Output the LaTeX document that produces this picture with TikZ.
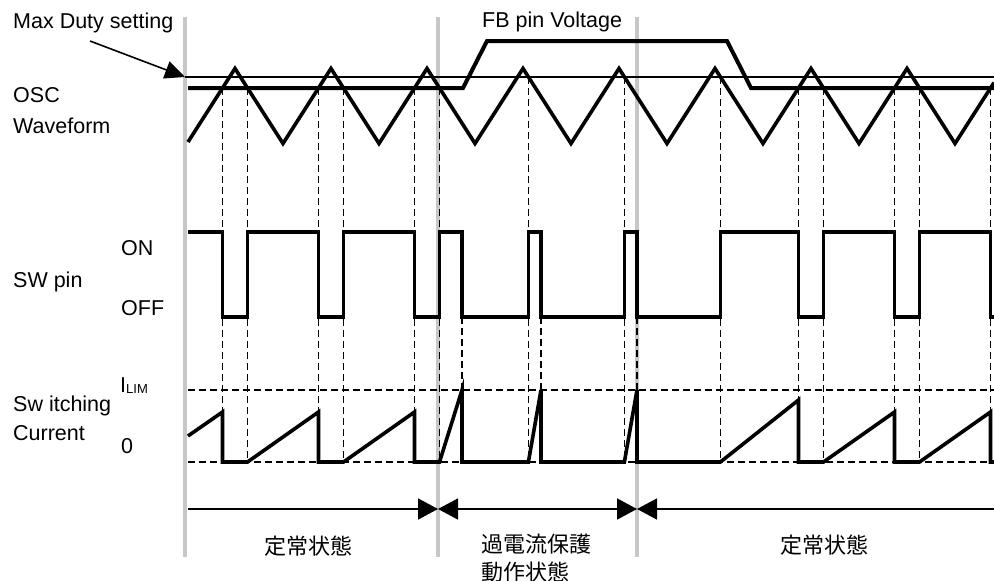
\documentclass[tikz,border=0pt]{standalone}
\usepackage{fontspec}
\setmainfont{Liberation Sans}
\newfontfamily\cjk{Noto Sans CJK JP}
\usetikzlibrary{arrows.meta}
\tikzset{bigtip/.tip={Triangle[length=20pt,width=21pt]}}
\begin{document}
\begin{tikzpicture}[x=1pt,y=-1pt,
  lbl/.style={inner sep=0pt, anchor=base west, font=\fontsize{21.5}{26}\selectfont},
  cjklbl/.style={inner sep=0pt, font=\cjk\fontsize{22}{28}\selectfont},
  phase/.style={draw=black!22, line width=3.5pt},
  guide/.style={dash pattern=on 7pt off 4pt, line width=1.5pt},
  wave/.style={line width=3.6pt, line join=miter},
  thinline/.style={line width=1.6pt}
]
\useasboundingbox (0,0) rectangle (994,581);

% phase boundaries (grey)
\draw[phase] (185,17) -- (185,557);
\draw[phase] (438,17) -- (438,557);
\draw[phase] (637,17) -- (637,557);

% vertical dashed guides
\foreach \x in {222.5,247.5,318.5,343.5,414.5,439.5,798.5,823.5,894.5,919.5,990.5}
  \draw[guide] (\x,88) -- (\x,462);
\foreach \x in {528.4,624.4,720.4}
  \draw[guide] (\x,77) -- (\x,462);
\foreach \x in {462,541,637}
  \draw[guide] (\x,317) -- (\x,462);

% current reference levels
\draw[guide] (188,390) -- (994,390);
\draw[guide] (188,462) -- (994,462);

% Max duty level
\draw[thinline] (185,77) -- (994,77);

% FB pin voltage
\draw[wave, line width=4pt] (188,88) -- (463,88) -- (487,41) -- (727,41) -- (751,88) -- (994,88);

% OSC triangle
\draw[wave] (188,142) -- (235,68.5) -- (283,143.5) -- (331,68.5) -- (379,143.5)
  -- (427,68.5) -- (475,143.5) -- (523,68.5) -- (571,143.5) -- (619,68.5)
  -- (667,143.5) -- (715,68.5) -- (763,143.5) -- (811,68.5) -- (859,143.5)
  -- (907,68.5) -- (955,143.5) -- (994,82.6);

% SW pin
\draw[wave] (188,232) -- (222.5,232) -- (222.5,317) -- (247.5,317) -- (247.5,232)
  -- (318.5,232) -- (318.5,317) -- (343.5,317) -- (343.5,232) -- (414.5,232)
  -- (414.5,317) -- (439.5,317) -- (439.5,232) -- (462,232) -- (462,317)
  -- (528.4,317) -- (528.4,232) -- (541,232) -- (541,317) -- (624.4,317)
  -- (624.4,232) -- (637,232) -- (637,317) -- (720.4,317) -- (720.4,232)
  -- (798.5,232) -- (798.5,317) -- (823.5,317) -- (823.5,232) -- (894.5,232)
  -- (894.5,317) -- (919.5,317) -- (919.5,232) -- (990.5,232) -- (990.5,317) -- (994,317);

% Switching current
\draw[wave] (188,436) -- (222.5,412) -- (222.5,462) -- (247.5,462) -- (318.5,412)
  -- (318.5,462) -- (343.5,462) -- (414.5,412) -- (414.5,462) -- (439.5,462)
  -- (462,390) -- (462,462) -- (528.4,462) -- (541,390) -- (541,462)
  -- (624.4,462) -- (637,390) -- (637,462) -- (720.4,462) -- (798.5,400)
  -- (798.5,462) -- (823.5,462) -- (894.5,412) -- (894.5,462) -- (919.5,462)
  -- (990.5,412) -- (990.5,462) -- (994,462);

% Max Duty arrow
\coordinate (mdtail) at (90,41);
\coordinate (mdtip) at (185,77);
\draw[thinline, -{Triangle[length=20pt,width=18pt]}] (mdtail) -- (mdtip);

% phase arrows
\coordinate (a0) at (188,509);
\coordinate (a1) at (438,509);
\coordinate (a2) at (637,509);
\coordinate (a3) at (994,509);
\draw[thinline, -{bigtip}] (a0) -- (a1);
\draw[thinline, {bigtip}-{bigtip}] (a1) -- (a2);
\draw[thinline, {bigtip}-] (a2) -- (a3);

% labels
\node[lbl] (maxduty) at (13,28) {Max Duty setting};
\node[lbl] (osc) at (13,102) {OSC};
\node[lbl] (wavef) at (13,133) {Waveform};
\node[lbl] (fb) at (482,27) {FB pin Voltage};
\node[lbl] (swpin) at (13,287) {SW pin};
\node[lbl] (on) at (121,255) {ON};
\node[lbl] (off) at (121,315) {OFF};
\node[lbl] (swc) at (13,411) {Sw itching};
\node[lbl] (cur) at (13,440) {Current};
\node[lbl] (ilim) at (120,392) {I\raisebox{-1pt}{\fontsize{13}{15}\selectfont LIM}};
\node[lbl] (zero) at (121,453) {0};

\node[cjklbl] (st1) at (308,546) {定常状態};
\node[cjklbl, anchor=west, align=left] (oc) at (481,558) {過電流保護\\動作状態};
\node[cjklbl] (st2) at (824,545) {定常状態};
\end{tikzpicture}
\end{document}
